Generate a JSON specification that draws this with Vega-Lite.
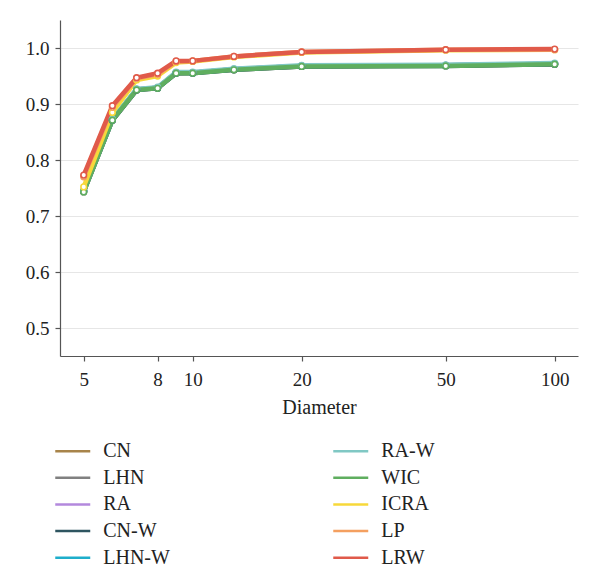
{
  "$schema": "https://vega.github.io/schema/vega-lite/v6.json",
  "autosize": "none",
  "width": 518,
  "height": 336,
  "padding": {"left": 60, "top": 20, "right": 22, "bottom": 227},
  "background": "white",
  "config": {
    "font": "Liberation Serif",
    "view": {"stroke": null},
    "axis": {"labelFont": "Liberation Serif", "titleFont": "Liberation Serif", "labelFontSize": 19, "titleFontSize": 20, "titleFontWeight": "normal", "labelColor": "#222", "titleColor": "#222", "domainColor": "#555", "tickColor": "#555", "tickSize": 5, "domainWidth": 1.2, "tickWidth": 1.2}
  },
  "data": {"values": [
    {"d":5,"m":"CN","v":0.744},{"d":6,"m":"CN","v":0.872},{"d":7,"m":"CN","v":0.926},{"d":8,"m":"CN","v":0.929},{"d":9,"m":"CN","v":0.956},{"d":10,"m":"CN","v":0.956},{"d":13,"m":"CN","v":0.962},{"d":20,"m":"CN","v":0.968},{"d":50,"m":"CN","v":0.969},{"d":100,"m":"CN","v":0.971},
    {"d":5,"m":"LHN","v":0.743},{"d":6,"m":"LHN","v":0.871},{"d":7,"m":"LHN","v":0.925},{"d":8,"m":"LHN","v":0.929},{"d":9,"m":"LHN","v":0.955},{"d":10,"m":"LHN","v":0.956},{"d":13,"m":"LHN","v":0.961},{"d":20,"m":"LHN","v":0.967},{"d":50,"m":"LHN","v":0.969},{"d":100,"m":"LHN","v":0.971},
    {"d":5,"m":"RA","v":0.745},{"d":6,"m":"RA","v":0.872},{"d":7,"m":"RA","v":0.926},{"d":8,"m":"RA","v":0.929},{"d":9,"m":"RA","v":0.956},{"d":10,"m":"RA","v":0.956},{"d":13,"m":"RA","v":0.962},{"d":20,"m":"RA","v":0.968},{"d":50,"m":"RA","v":0.969},{"d":100,"m":"RA","v":0.972},
    {"d":5,"m":"CN-W","v":0.744},{"d":6,"m":"CN-W","v":0.871},{"d":7,"m":"CN-W","v":0.925},{"d":8,"m":"CN-W","v":0.928},{"d":9,"m":"CN-W","v":0.955},{"d":10,"m":"CN-W","v":0.955},{"d":13,"m":"CN-W","v":0.961},{"d":20,"m":"CN-W","v":0.967},{"d":50,"m":"CN-W","v":0.968},{"d":100,"m":"CN-W","v":0.971},
    {"d":5,"m":"LHN-W","v":0.745},{"d":6,"m":"LHN-W","v":0.872},{"d":7,"m":"LHN-W","v":0.926},{"d":8,"m":"LHN-W","v":0.929},{"d":9,"m":"LHN-W","v":0.956},{"d":10,"m":"LHN-W","v":0.956},{"d":13,"m":"LHN-W","v":0.962},{"d":20,"m":"LHN-W","v":0.968},{"d":50,"m":"LHN-W","v":0.969},{"d":100,"m":"LHN-W","v":0.972},
    {"d":5,"m":"RA-W","v":0.745},{"d":6,"m":"RA-W","v":0.873},{"d":7,"m":"RA-W","v":0.927},{"d":8,"m":"RA-W","v":0.930},{"d":9,"m":"RA-W","v":0.957},{"d":10,"m":"RA-W","v":0.957},{"d":13,"m":"RA-W","v":0.963},{"d":20,"m":"RA-W","v":0.969},{"d":50,"m":"RA-W","v":0.970},{"d":100,"m":"RA-W","v":0.973},
    {"d":5,"m":"WIC","v":0.743},{"d":6,"m":"WIC","v":0.871},{"d":7,"m":"WIC","v":0.925},{"d":8,"m":"WIC","v":0.928},{"d":9,"m":"WIC","v":0.955},{"d":10,"m":"WIC","v":0.955},{"d":13,"m":"WIC","v":0.961},{"d":20,"m":"WIC","v":0.967},{"d":50,"m":"WIC","v":0.968},{"d":100,"m":"WIC","v":0.971},
    {"d":5,"m":"ICRA","v":0.752},{"d":6,"m":"ICRA","v":0.885},{"d":7,"m":"ICRA","v":0.943},{"d":8,"m":"ICRA","v":0.950},{"d":9,"m":"ICRA","v":0.974},{"d":10,"m":"ICRA","v":0.976},{"d":13,"m":"ICRA","v":0.984},{"d":20,"m":"ICRA","v":0.992},{"d":50,"m":"ICRA","v":0.996},{"d":100,"m":"ICRA","v":0.997},
    {"d":5,"m":"LP","v":0.770},{"d":6,"m":"LP","v":0.894},{"d":7,"m":"LP","v":0.946},{"d":8,"m":"LP","v":0.953},{"d":9,"m":"LP","v":0.976},{"d":10,"m":"LP","v":0.977},{"d":13,"m":"LP","v":0.985},{"d":20,"m":"LP","v":0.993},{"d":50,"m":"LP","v":0.997},{"d":100,"m":"LP","v":0.997},
    {"d":5,"m":"LRW","v":0.773},{"d":6,"m":"LRW","v":0.897},{"d":7,"m":"LRW","v":0.947},{"d":8,"m":"LRW","v":0.955},{"d":9,"m":"LRW","v":0.977},{"d":10,"m":"LRW","v":0.977},{"d":13,"m":"LRW","v":0.985},{"d":20,"m":"LRW","v":0.993},{"d":50,"m":"LRW","v":0.997},{"d":100,"m":"LRW","v":0.998}
  ]},
  "encoding": {
    "x": {"field": "d", "type": "quantitative", "title": "Diameter",
      "scale": {"type": "log", "domain": [4.3, 116], "nice": false},
      "axis": {"values": [5, 8, 10, 20, 50, 100], "grid": false, "labelPadding": 9, "titlePadding": 8, "format": "d",
        "labelFont": "Liberation Serif", "titleFont": "Liberation Serif", "labelFontSize": 19, "titleFontSize": 20, "titleFontWeight": "normal"}},
    "y": {"field": "v", "type": "quantitative", "title": null,
      "scale": {"domain": [0.45, 1.05], "nice": false, "zero": false},
      "axis": {"values": [0.5, 0.6, 0.7, 0.8, 0.9, 1.0], "format": ".1f", "grid": true, "gridColor": "#e6e6e6", "gridWidth": 1.2, "labelPadding": 6,
        "labelFont": "Liberation Serif", "labelFontSize": 19}}
  },
  "layer": [
    {
      "mark": {"type": "line", "strokeWidth": 4.5, "strokeJoin": "round"},
      "encoding": {
        "color": {"field": "m", "type": "nominal",
          "scale": {
            "domain": ["CN", "LHN", "RA", "CN-W", "LHN-W", "RA-W", "WIC", "ICRA", "LP", "LRW"],
            "range": ["#a8844a", "#808080", "#b388dd", "#2e5560", "#1eaecb", "#80c8c4", "#5fae5f", "#f7d83a", "#f4a060", "#e05a4a"]
          },
          "legend": {"orient": "none", "legendX": 2.75, "legendY": 421.25, "columns": 2, "direction": "vertical", "title": null,
            "symbolType": "M-2,0H2", "symbolSize": 306, "symbolStrokeWidth": 2.5, "symbolFillColor": "transparent",
            "labelFont": "Liberation Serif", "labelFontSize": 20, "labelColor": "#222", "labelOffset": 20.5,
            "rowPadding": 6.6, "columnPadding": 157, "padding": 0}
        }
      }
    },
    {
      "mark": {"type": "point", "shape": "circle", "filled": false, "fill": "white", "fillOpacity": 1, "size": 32, "strokeWidth": 1.6, "opacity": 1},
      "encoding": {
        "color": {"field": "m", "type": "nominal", "legend": null}
      }
    }
  ]
}
